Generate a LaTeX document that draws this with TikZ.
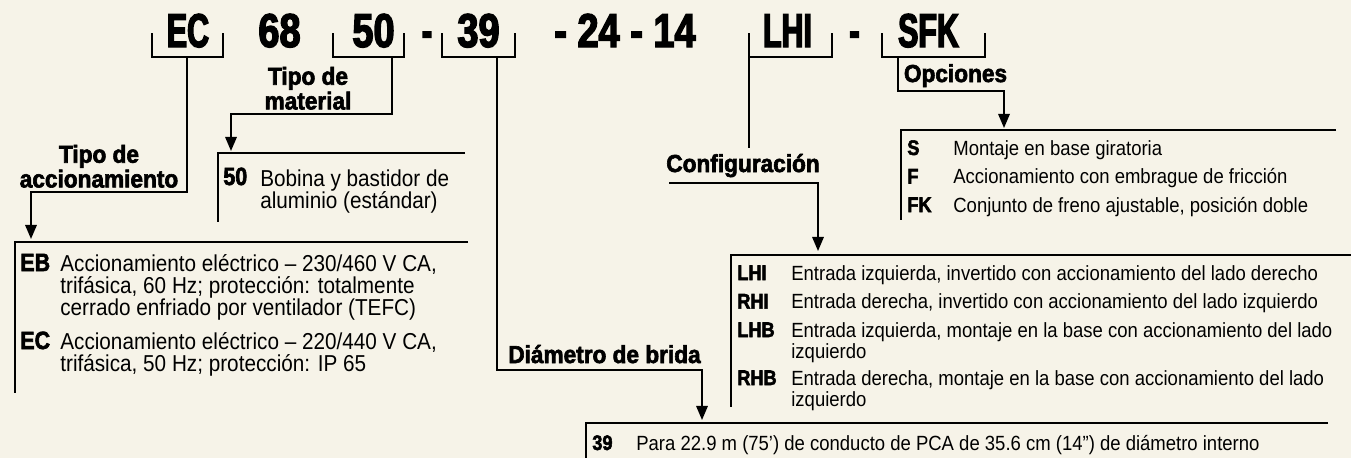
\documentclass[tikz,border=0pt]{standalone}
\usepackage{fontspec}
\setmainfont{Liberation Sans}[FakeStretch=0.9]
\newfontfamily\hdfont{Liberation Sans}[FakeStretch=0.92, BoldFeatures={FakeBold=2.5}]
\newfontfamily\keyfont{Liberation Sans}[FakeStretch=0.86, BoldFeatures={FakeBold=2.5}]
\newfontfamily\codefont{Liberation Sans}[FakeStretch=0.64, BoldFeatures={FakeBold=3}]
\newfontfamily\numfont{Liberation Sans}[FakeStretch=0.8, BoldFeatures={FakeBold=3}]
\usetikzlibrary{arrows.meta, positioning}
\definecolor{paper}{RGB}{246,243,232}

\begin{document}
\begin{tikzpicture}[x=0.02cm, y=-0.02cm,
    line/.style={line width=1.1pt},
    arr/.style={line width=1.1pt, -{Triangle[length=8pt, width=6.5pt]}},
    code/.style={font=\codefont\bfseries\fontsize{27}{27}\selectfont, inner sep=0pt, anchor=base},
    num/.style={code, font=\numfont\bfseries\fontsize{27}{27}\selectfont},
    head/.style={font=\hdfont\bfseries\fontsize{14}{12.5}\selectfont, inner sep=0pt, align=center},
    keyl/.style={font=\keyfont\bfseries\fontsize{14.2}{12.5}\selectfont, inner sep=0pt, anchor=base west},
    txtl/.style={font=\fontsize{13.1}{12.5}\selectfont, inner sep=0pt, anchor=base west, align=left},
    keyr/.style={font=\keyfont\bfseries\fontsize{12}{12}\selectfont, inner sep=0pt, anchor=base west},
    txtr/.style={font=\fontsize{11.7}{11.95}\selectfont, inner sep=0pt, anchor=base west, align=left}]

    \fill[paper] (0,0) rectangle (1351,458);
    \useasboundingbox (0,0) rectangle (1351,458);

    % model code
    \node[code] (cEC) at (188,47) {EC};
    \node[num] (c68) at (279.5,47) {68};
    \node[num] (c50) at (373.5,47) {50};
    \node[code] (d1) at (427,47) {-};
    \node[num] (c39) at (478.5,47) {39};
    \node[num] (c24) at (625,47) {- 24 - 14};
    \node[code] (cLHI) at (787.5,47) {LHI};
    \node[code] (d2) at (854.5,47) {-};
    \node[code] (cSFK) at (928.5,47) {SFK};

    \foreach \a/\b in {152/223, 333/404, 442/515, 749/832, 882/985}
        \draw[line] (\a,33) |- (\b,57) -- (\b,33);

    \coordinate (ecB) at (187,57);
    \coordinate (matB) at (392,57);
    \coordinate (diaB) at (497,57);
    \coordinate (cfB) at (749,57);
    \coordinate (opB) at (898,57);

    % headings
    \node[head, anchor=south] (tacc) at (99,188) {Tipo de\\accionamiento};
    \node[head, anchor=south] (tmat) at (308,110) {Tipo de\\material};
    \node[head, anchor=base] (conf) at (743,172) {Configuración};
    \node[head, anchor=base] (opc) at (955.5,82) {Opciones};
    \node[head, anchor=base] (dbr) at (604.5,363) {Diámetro de brida};

    \coordinate (accIn) at (31,239);
    \coordinate (matIn) at (231,151);
    \coordinate (diaIn) at (702,420);
    \coordinate (cfL) at (669,183);
    \coordinate (cfIn) at (818,251);
    \coordinate (opIn) at (1004,128);

    \draw[arr] (ecB) -- ++(0,135) -| (accIn);
    \draw[arr] (matB) -- ++(0,57) -| (matIn);
    \draw[arr] (diaB) -- ++(0,313) -| (diaIn);
    \draw[line] (cfB) -- ++(0,91);
    \draw[arr] (cfL) -| (cfIn);
    \draw[arr] (opB) -- ++(0,34) -| (opIn);

    % lists
    \draw[line] (468,242) -| (15,393);
    \draw[line] (465,153) -| (218,222);
    \draw[line] (1336,130) -| (901,220);
    \draw[line] (1351,255) -| (731,407);
    \draw[line] (1328,423) -| (586,458);

    \node[keyl] (kEB) at (20,271) {EB};
    \node[txtl] (tEB) at (60,315) {Accionamiento eléctrico – 230/460 V CA,\\trifásica, 60 Hz; protección: totalmente\\cerrado enfriado por ventilador (TEFC)};
    \node[keyl] (kEC) at (20,349) {EC};
    \node[txtl] (tEC) at (60,371) {Accionamiento eléctrico – 220/440 V CA,\\trifásica, 50 Hz; protección: IP 65};

    \node[keyl] (k50) at (223,185) {50};
    \node[txtl] (t50) at (260,208) {Bobina y bastidor de\\aluminio (estándar)};

    \node[keyr] (kS) at (907,155) {S};
    \node[txtr] (tS) at (953,155) {Montaje en base giratoria};
    \node[keyr] (kF) at (907,183.5) {F};
    \node[txtr] (tF) at (953,183.5) {Accionamiento con embrague de fricción};
    \node[keyr] (kFK) at (907,212) {FK};
    \node[txtr] (tFK) at (953,212) {Conjunto de freno ajustable, posición doble};

    \node[keyr] (kLHI) at (737,280) {LHI};
    \node[txtr] (tLHI) at (791,280) {Entrada izquierda, invertido con accionamiento del lado derecho};
    \node[keyr] (kRHI) at (737,308.5) {RHI};
    \node[txtr] (tRHI) at (791,308.5) {Entrada derecha, invertido con accionamiento del lado izquierdo};
    \node[keyr] (kLHB) at (737,337) {LHB};
    \node[txtr] (tLHB) at (791,358) {Entrada izquierda, montaje en la base con accionamiento del lado\\izquierdo};
    \node[keyr] (kRHB) at (737,385) {RHB};
    \node[txtr] (tRHB) at (791,406) {Entrada derecha, montaje en la base con accionamiento del lado\\izquierdo};

    \node[keyr] (k39) at (592,450) {39};
    \node[txtr] (t39) at (636,450) {Para 22.9 m (75’) de conducto de PCA de 35.6 cm (14”) de diámetro interno};
\end{tikzpicture}
\end{document}
